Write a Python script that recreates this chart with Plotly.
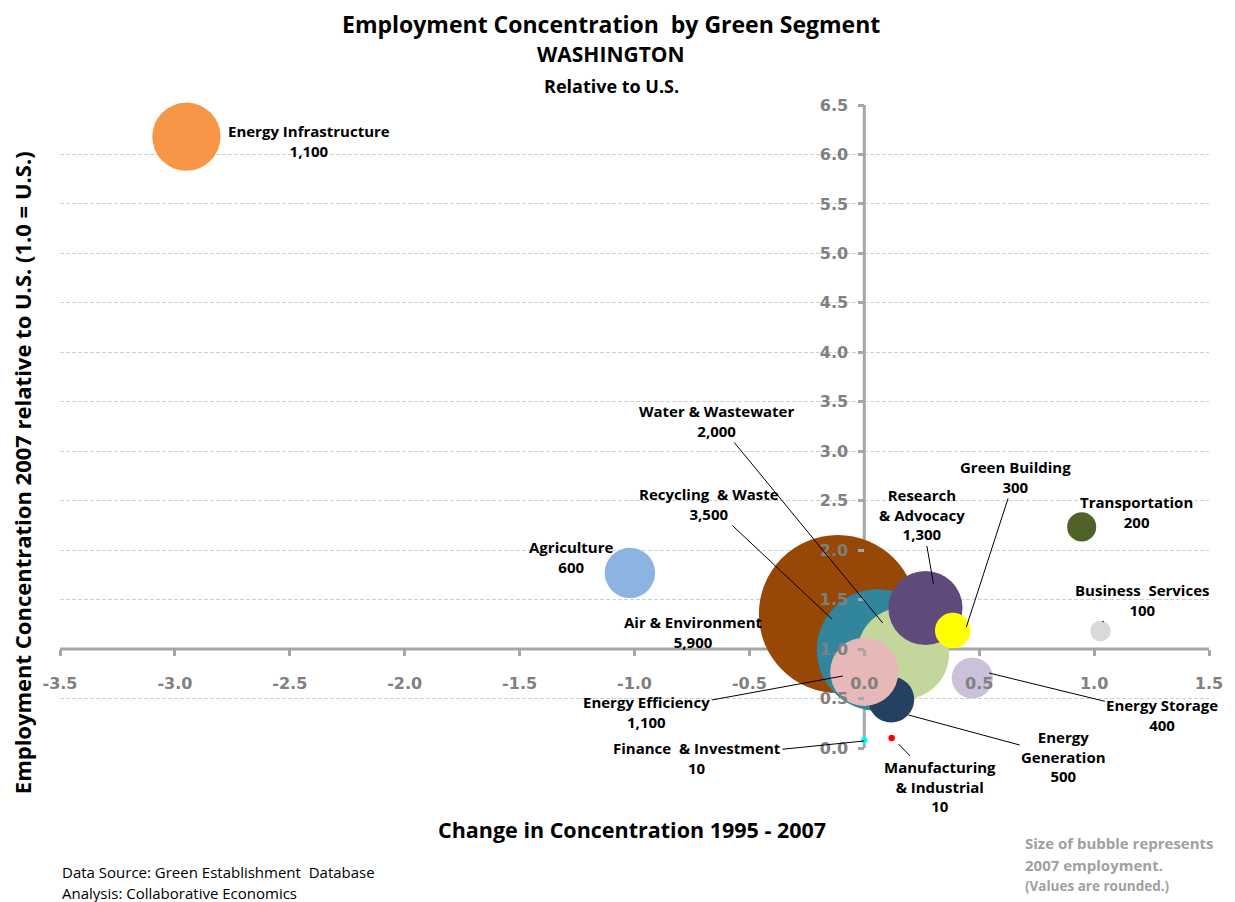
import plotly.graph_objects as go

# ---------------- data ----------------
segments = ["Air & Environment", "Recycling & Waste", "Water & Wastewater",
            "Research & Advocacy", "Green Building", "Energy Generation",
            "Energy Efficiency", "Energy Infrastructure", "Agriculture",
            "Transportation", "Business Services", "Energy Storage",
            "Finance & Investment", "Manufacturing & Industrial"]
label_names = ["Air & Environment", "Recycling  & Waste", "Water & Wastewater",
               "Research<br>& Advocacy", "Green Building", "Energy<br>Generation",
               "Energy Efficiency", "Energy Infrastructure", "Agriculture",
               "Transportation", "Business  Services", "Energy Storage",
               "Finance  & Investment", "Manufacturing<br>& Industrial"]
change_1995_2007 = [-0.115, 0.058, 0.169, 0.266, 0.385, 0.117, 0.0,
                    -2.95, -1.02, 0.946, 1.028, 0.47, 0.0, 0.119]
concentration_2007 = [1.355, 0.99, 0.955, 1.415, 1.188, 0.49, 0.77,
                      6.18, 1.77, 2.235, 1.183, 0.708, 0.08, 0.10]
employment_2007 = [5900, 3500, 2000, 1300, 300, 500, 1100,
                   1100, 600, 200, 100, 400, 10, 10]
colors = ["#974706", "#31859C", "#C3D69B", "#604A7B", "#FFFF00", "#254061",
          "#E6B9B8", "#F79646", "#8DB3E2", "#4F6228", "#D9D9D9", "#CCC1DA",
          "#00FFFF", "#FF0000"]

# label text centres and leader-line end points (data units)
label_x = [-0.744, -0.674, -0.643, 0.249, 0.656, 0.868, -0.946,
           -2.418, -1.275, 1.184, 1.21, 1.297, -0.729, 0.331]
label_y = [1.173, 2.467, 3.306, 2.356, 2.74, -0.09, 0.365,
           6.137, 1.93, 2.386, 1.50, 0.33, -0.10, -0.394]
leader_x = [None, -0.141, 0.080, 0.301, 0.444, 0.192, -0.093,
            None, None, None, 1.036, 0.543, 0.0, 0.149]
leader_y = [None, 1.304, 1.264, 1.658, 1.223, 0.334, 0.728,
            None, None, None, 1.274, 0.758, 0.071, 0.04]

x_ticks = [-3.5, -3.0, -2.5, -2.0, -1.5, -1.0, -0.5, 0.0, 0.5, 1.0, 1.5]
x_ticklabels = ["-3.5", "-3.0", "-2.5", "-2.0", "-1.5", "-1.0", "-0.5", "0.0", "0.5", "1.0", "1.5"]
y_ticks = [0.0, 0.5, 1.0, 1.5, 2.0, 2.5, 3.0, 3.5, 4.0, 4.5, 5.0, 5.5, 6.0, 6.5]
y_ticklabels = ["0.0", "0.5", "1.0", "1.5", "2.0", "2.5", "3.0", "3.5", "4.0", "4.5", "5.0", "5.5", "6.0", "6.5"]
x_range = [-3.5, 1.5]
y_range = [0.0, 6.5]
x_cross = 1.0   # x axis crosses at y = 1.0 (U.S.)
y_cross = 0.0   # y axis crosses at x = 0

# ---------------- figure ----------------
MAX_DIAM = 158
fig = go.Figure()
fig.add_trace(go.Scatter(
    x=change_1995_2007, y=concentration_2007, mode="markers",
    marker=dict(size=employment_2007, sizemode="area",
                sizeref=2 * max(employment_2007) / MAX_DIAM ** 2,
                color=colors, opacity=1, line=dict(width=0)),
    text=segments, hoverinfo="text", cliponaxis=False, showlegend=False))

LBL_FONT = dict(family="Open Sans", size=15, color="black", weight="bold")
annotations = []
for i in range(len(segments)):
    txt = f"{label_names[i]}<br>{employment_2007[i]:,}"
    if leader_x[i] is None:
        annotations.append(dict(x=label_x[i], y=label_y[i], xref="x", yref="y",
                                xanchor="center", yanchor="middle",
                                text=txt, showarrow=False, font=LBL_FONT, align="center"))
    else:
        annotations.append(dict(x=leader_x[i], y=leader_y[i], xref="x", yref="y",
                                ax=label_x[i], ay=label_y[i], axref="x", ayref="y",
                                text=txt, showarrow=True, arrowhead=0, arrowwidth=1,
                                arrowcolor="black", standoff=0, font=LBL_FONT, align="center"))


def note(text, x, y, size, color="black", bold=True, xanchor="center", angle=0):
    f = dict(family="Open Sans", size=size, color=color)
    if bold:
        f["weight"] = "bold"
    return dict(text=text, x=x, y=y, xref="paper", yref="paper", xanchor=xanchor,
                yanchor="middle", textangle=angle, showarrow=False, font=f)


annotations += [
    note("Employment Concentration  by Green Segment", 0.4797, 1.1260, 23),
    note("WASHINGTON", 0.4797, 1.0793, 21),
    note("Relative to U.S.", 0.4797, 1.0296, 18),
    note("Change in Concentration 1995 - 2007", 0.498, -0.1275, 21.5),
    note("Employment Concentration 2007 relative to U.S. (1.0 = U.S.)", -0.0329, 0.4277, 22, angle=-90),
    note("Data Source: Green Establishment  Database", 0.0, -0.1928, 15, bold=False, xanchor="left"),
    note("Analysis: Collaborative Economics", 0.0, -0.2255, 15, bold=False, xanchor="left"),
    note("Size of bubble represents", 0.838, -0.1477, 15, color="#A0A0A0", xanchor="left"),
    note("2007 employment.", 0.838, -0.182, 15, color="#A0A0A0", xanchor="left"),
    note("(Values are rounded.)", 0.838, -0.2146, 13.5, color="#A0A0A0", xanchor="left"),
]

AXIS_COLOR = "#A6A6A6"
TICK_FONT = dict(family="DejaVu Sans", size=16, color="#808080", weight="bold")
shapes = [
    dict(type="line", xref="x", yref="y", x0=x_range[0], x1=x_range[1], y0=x_cross, y1=x_cross,
         line=dict(color=AXIS_COLOR, width=3), layer="between"),
    dict(type="line", xref="x", yref="y", x0=y_cross, x1=y_cross, y0=y_range[0], y1=y_range[1],
         line=dict(color=AXIS_COLOR, width=3), layer="between"),
]

# the page body has an 8px margin: figure is sized so the plot area lands at
# x 60..1215, y 105..748 of the window
fig.update_layout(
    width=1227, height=894,
    margin=dict(l=52, r=20, t=97, b=154),
    paper_bgcolor="white", plot_bgcolor="white",
    xaxis=dict(range=x_range, tickvals=x_ticks, ticktext=x_ticklabels,
               ticks="outside", ticklen=6, tickwidth=3, tickcolor=AXIS_COLOR,
               showline=False, showgrid=False, zeroline=False,
               anchor="free", position=(x_cross - y_range[0]) / (y_range[1] - y_range[0]),
               tickfont=TICK_FONT, ticklabelstandoff=14),
    yaxis=dict(range=y_range, tickvals=y_ticks, ticktext=y_ticklabels,
               ticks="outside", ticklen=6, tickwidth=3, tickcolor=AXIS_COLOR,
               showline=False, showgrid=True, gridcolor="#D0D0D0", griddash="4px,2px", gridwidth=1,
               zeroline=False,
               anchor="free", position=(y_cross - x_range[0]) / (x_range[1] - x_range[0]),
               tickfont=TICK_FONT, ticklabelstandoff=7),
    annotations=annotations, shapes=shapes,
)

fig.write_html("out.html")
